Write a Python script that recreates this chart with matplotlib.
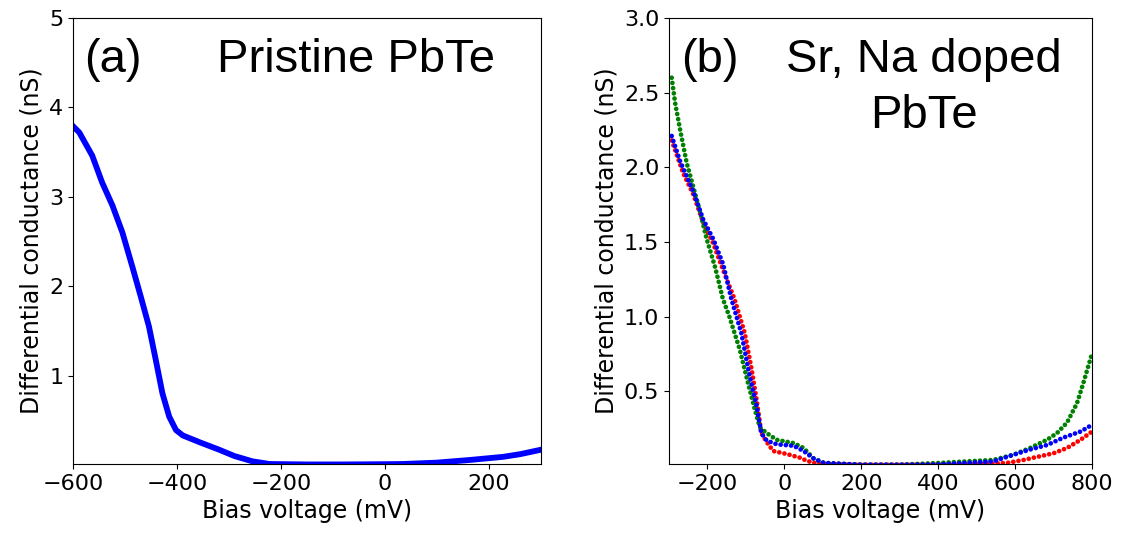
import matplotlib
matplotlib.use("Agg")
import matplotlib.pyplot as plt

# (a) pristine PbTe
bias_a = [-600, -588, -563, -544, -524, -505, -486, -470, -454, -441, -428,
          -415, -402, -389, -355, -319, -290, -255, -222, -150, -80, 0, 34,
          99, 163, 227, 260, 300]
cond_a = [3.79, 3.72, 3.46, 3.16, 2.90, 2.60, 2.22, 1.89, 1.55, 1.18, 0.80,
          0.54, 0.39, 0.33, 0.25, 0.17, 0.10, 0.04, 0.01, 0.005, 0.005, 0.008, 0.01,
          0.025, 0.055, 0.09, 0.12, 0.17]

# (b) Sr, Na doped PbTe, three spectra
bias_green = [-293, -284, -271, -254, -237, -219, -202, -180, -160, -143, -116,
              -95, -77, -64, -46, -20, 24, 50, 76, 103, 200, 300, 404, 470,
              543, 596, 639, 683, 709, 735, 761, 778, 798]
cond_green = [2.60, 2.43, 2.25, 2.03, 1.87, 1.70, 1.52, 1.33, 1.12, 1.00, 0.78,
              0.56, 0.38, 0.26, 0.22, 0.175, 0.153, 0.12, 0.05, 0.02, 0.008, 0.008, 0.02, 0.03,
              0.04, 0.075, 0.12, 0.175, 0.22, 0.29, 0.42, 0.56, 0.735]

bias_blue = [-293, -271, -237, -211, -185, -159, -138, -112, -90, -72, -60,
             -46, -20, 24, 50, 76, 103, 200, 300, 400, 470, 543, 596, 639,
             683, 726, 770, 800]
cond_blue = [2.21, 2.04, 1.84, 1.65, 1.52, 1.35, 1.12, 0.89, 0.60, 0.40, 0.22,
             0.17, 0.145, 0.135, 0.10, 0.05, 0.02, 0.008, 0.008, 0.01, 0.02, 0.03, 0.075, 0.11,
             0.14, 0.19, 0.23, 0.275]

bias_red = [-293, -263, -237, -211, -185, -159, -130, -103, -86, -72, -60,
            -46, -29, 6, 41, 58, 85, 200, 300, 450, 578, 622, 665, 700,
            735, 770, 800]
cond_red = [2.18, 1.96, 1.82, 1.63, 1.49, 1.31, 1.12, 0.89, 0.66, 0.44, 0.22,
            0.16, 0.10, 0.08, 0.055, 0.035, 0.015, 0.008, 0.008, 0.008, 0.02, 0.04, 0.065, 0.085,
            0.12, 0.175, 0.23]

fig = plt.figure(figsize=(11.23, 5.37), dpi=100)
ax1 = fig.add_axes([73 / 1123, 73 / 537, 468 / 1123, 446 / 537])
ax2 = fig.add_axes([669 / 1123, 73 / 537, 423 / 1123, 446 / 537])

# dotted lines with round caps mimic the dense measured points
dots = dict(linestyle=(0, (0.01, 1.1)), dash_capstyle='round', linewidth=3.4)

ax1.plot(bias_a, cond_a, color='blue', linewidth=4.2)
ax1.set_xlim(-600, 300)
ax1.set_ylim(0.01, 5)
ax1.set_yticks([1, 2, 3, 4, 5])
ax1.set_xticks([-600, -400, -200, 0, 200])

ax2.plot(bias_red, cond_red, color='red', **dots)
ax2.plot(bias_green, cond_green, color='green', **dots)
ax2.plot(bias_blue, cond_blue, color='blue', **dots)
ax2.set_xlim(-300, 800)
ax2.set_ylim(0.013, 3)
ax2.set_yticks([0.5, 1.0, 1.5, 2.0, 2.5, 3.0])
ax2.set_xticks([-200, 0, 200, 400, 600, 800])

for ax in (ax1, ax2):
    ax.tick_params(labelsize=16)
    ax.set_xlabel('Bias voltage (mV)', fontsize=17)
    ax.set_ylabel('Differential conductance (nS)', fontsize=17)

ax1.text(0.0235, 0.879, '(a)', fontsize=34, family='Liberation Sans', transform=ax1.transAxes)
ax1.text(0.308, 0.879, 'Pristine PbTe', fontsize=34, family='Liberation Sans', transform=ax1.transAxes)
ax2.text(0.028, 0.879, '(b)', fontsize=34, family='Liberation Sans', transform=ax2.transAxes)
ax2.text(0.277, 0.879, 'Sr, Na doped', fontsize=34, family='Liberation Sans', transform=ax2.transAxes)
ax2.text(0.475, 0.753, 'PbTe', fontsize=34, family='Liberation Sans', transform=ax2.transAxes)

fig.savefig('out.png', dpi=100)
